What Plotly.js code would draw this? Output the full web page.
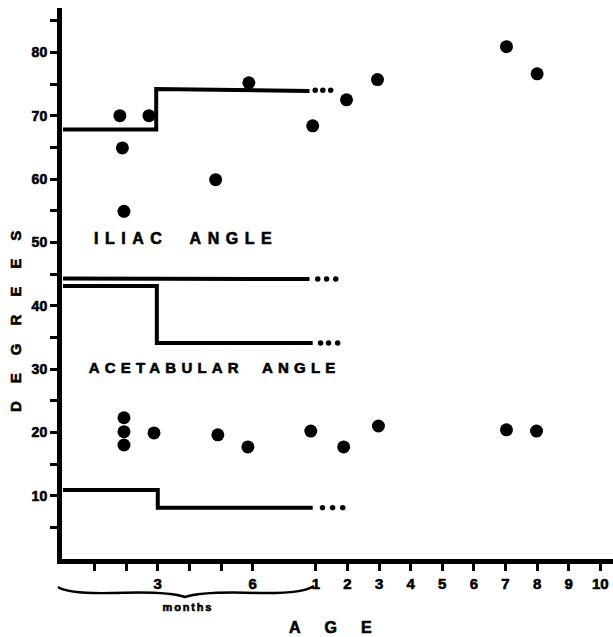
<!DOCTYPE html>
<html>
<head>
<meta charset="utf-8">
<script src="https://cdn.plot.ly/plotly-3.0.1.min.js"></script>
<style>
  html, body { margin: 0; padding: 0; background: #fff; }
  #chart { width: 613px; height: 637px; }
  #chart .annotation-text, #chart .xtick text, #chart .ytick text {
    stroke: #000; stroke-width: 0.6px; paint-order: stroke fill;
  }
</style>
</head>
<body>
<div id="chart"></div>
<script>
// Position on the broken age axis: 0–6 = months, then 7 + years (1 yr = 8 ... 10 yr = 17)
const tickVals   = [1, 2, 3, 4, 5, 6, 8, 9, 10, 11, 12, 13, 14, 15, 16, 17];
const tickLabels = ['', '', '3', '', '', '6', '1', '2', '3', '4', '5', '6', '7', '8', '9', '10'];

const yTickVals   = [5, 10, 15, 20, 25, 30, 35, 40, 45, 50, 55, 60, 65, 70, 75, 80, 85];
const yTickLabels = ['', '10', '', '20', '', '30', '', '40', '', '50', '', '60', '', '70', '', '80', ''];

// Individual measurements (degrees)
const iliacAge   = [1.8, 2.72, 1.88, 1.93, 5.88, 4.83, 7.9, 8.97, 9.95, 14.03, 15.0];
const iliacDeg   = [70, 70, 64.9, 54.9, 75.2, 59.9, 68.4, 72.5, 75.7, 80.9, 76.6];
const acetabAge  = [1.93, 1.93, 1.93, 2.88, 4.9, 5.85, 7.84, 8.88, 9.98, 14.03, 14.98];
const acetabDeg  = [22.3, 20.1, 18.0, 19.9, 19.6, 17.7, 20.2, 17.7, 21.0, 20.4, 20.2];

// Step lines (reference values)
const iliacStepAge   = [0, 2.95, 2.95, 7.8];
const iliacStepDeg   = [67.8, 67.8, 74.2, 73.9];
const acetUpperAge   = [0, 7.8];
const acetUpperDeg   = [44.3, 44.2];
const acetLowerAge   = [0, 2.97, 2.97, 7.9];
const acetLowerDeg   = [43.1, 43.1, 34.1, 34.1];
const bottomStepAge  = [0, 3.0, 3.0, 7.9];
const bottomStepDeg  = [10.9, 10.9, 8.1, 8.1];

// Dotted continuations
const iliacDotsAge  = [7.98, 8.22, 8.47];
const iliacDotsDeg  = [74.0, 74.0, 74.0];
const acetUpDotsAge = [8.06, 8.34, 8.63];
const acetUpDotsDeg = [44.2, 44.2, 44.2];
const acetLoDotsAge = [8.15, 8.40, 8.69];
const acetLoDotsDeg = [34.1, 34.1, 34.1];
const bottomDotsAge = [8.21, 8.53, 8.85];
const bottomDotsDeg = [8.1, 8.1, 8.1];

const FONT = 'Liberation Sans, Arial, Helvetica, sans-serif';
const BLACK = '#000';
const bold = s => (s === '' ? '' : '<b>' + s + '</b>');

function stepTrace(x, y) {
  return { x: x, y: y, type: 'scatter', mode: 'lines',
    line: { color: BLACK, width: 4 }, hoverinfo: 'skip', showlegend: false };
}
function dotTrace(x, y) {
  return { x: x, y: y, type: 'scatter', mode: 'markers',
    marker: { color: BLACK, size: 5.5 }, hoverinfo: 'skip', showlegend: false };
}
function pointTrace(x, y, name) {
  return { x: x, y: y, name: name, type: 'scatter', mode: 'markers',
    marker: { color: BLACK, size: 13 }, showlegend: false, cliponaxis: false };
}

const data = [
  stepTrace(iliacStepAge, iliacStepDeg),
  stepTrace(acetUpperAge, acetUpperDeg),
  stepTrace(acetLowerAge, acetLowerDeg),
  stepTrace(bottomStepAge, bottomStepDeg),
  dotTrace(iliacDotsAge, iliacDotsDeg),
  dotTrace(acetUpDotsAge, acetUpDotsDeg),
  dotTrace(acetLoDotsAge, acetLoDotsDeg),
  dotTrace(bottomDotsAge, bottomDotsDeg),
  pointTrace(iliacAge, iliacDeg, 'Iliac angle'),
  pointTrace(acetabAge, acetabDeg, 'Acetabular angle')
];

// plot area: left 62, right 613, top 8, bottom 559
const L = 62, R = 0, T = 8, B = 78, W = 613, H = 637;
const pw = W - L - R, ph = H - T - B;
const px = v => (v - L) / pw;
const py = v => (H - B - v) / ph;

const bracePath =
  'M ' + px(58) + ',' + py(587) +
  ' Q ' + px(68) + ',' + py(594) + ' ' + px(112) + ',' + py(593) +
  ' Q ' + px(168) + ',' + py(591) + ' ' + px(185) + ',' + py(597) +
  ' Q ' + px(203) + ',' + py(591) + ' ' + px(258) + ',' + py(593) +
  ' Q ' + px(302) + ',' + py(594) + ' ' + px(314) + ',' + py(586);

const annSpacing = [6.5, 5.2, 18, 24, 1.8];
const annFont = size => ({ family: FONT, size: size, color: BLACK, weight: 700 });
const layout = {
  width: W, height: H,
  margin: { l: L, r: R, t: T, b: B, pad: 0 },
  paper_bgcolor: '#fff', plot_bgcolor: '#fff',
  font: { family: FONT, color: BLACK },
  showlegend: false,
  xaxis: {
    range: [-0.03, 17.4], showgrid: false, zeroline: false,
    showline: true, linecolor: BLACK, linewidth: 5,
    tickmode: 'array', tickvals: tickVals, ticktext: tickLabels.map(bold),
    ticks: 'outside', ticklen: 7, tickwidth: 3, tickcolor: BLACK,
    tickfont: { family: FONT, size: 15, color: BLACK, weight: 700 },
    fixedrange: true
  },
  yaxis: {
    range: [0, 87], showgrid: false, zeroline: false,
    showline: true, linecolor: BLACK, linewidth: 5,
    tickmode: 'array', tickvals: yTickVals, ticktext: yTickLabels.map(bold),
    ticks: 'outside', ticklen: 7, tickwidth: 3, tickcolor: BLACK,
    tickfont: { family: FONT, size: 14, color: BLACK, weight: 700 },
    fixedrange: true
  },
  annotations: [
    { text: '<b>ILIAC\u00a0 ANGLE</b>', x: 3.88, y: 50.6, xref: 'x', yref: 'y',
      xanchor: 'center', yanchor: 'middle', showarrow: false, font: annFont(16) },
    { text: '<b>ACETABULAR\u00a0 ANGLE</b>', x: 4.80, y: 30.2, xref: 'x', yref: 'y',
      xanchor: 'center', yanchor: 'middle', showarrow: false, font: annFont(15) },
    { text: '<b>DEGREES</b>', x: px(15), y: py(313), xref: 'paper', yref: 'paper', textangle: -90,
      xanchor: 'center', yanchor: 'middle', showarrow: false, font: annFont(15) },
    { text: '<b>AGE</b>', x: px(342.5), y: py(627), xref: 'paper', yref: 'paper',
      xanchor: 'center', yanchor: 'middle', showarrow: false, font: annFont(16) },
    { text: '<b>months</b>', x: px(188), y: py(607), xref: 'paper', yref: 'paper',
      xanchor: 'center', yanchor: 'middle', showarrow: false, font: annFont(11) }
  ],
  shapes: [
    { type: 'path', xref: 'paper', yref: 'paper', path: bracePath,
      line: { color: BLACK, width: 2.5 } }
  ]
};

Plotly.newPlot('chart', data, layout, { displayModeBar: false, staticPlot: true }).then(function () {
  const anns = document.querySelectorAll('.annotation');
  anns.forEach(function (a, i) {
    const t = a.querySelector('.annotation-text');
    if (t && annSpacing[i] !== undefined) t.style.letterSpacing = annSpacing[i] + 'px';
  });
});
</script>
</body>
</html>
